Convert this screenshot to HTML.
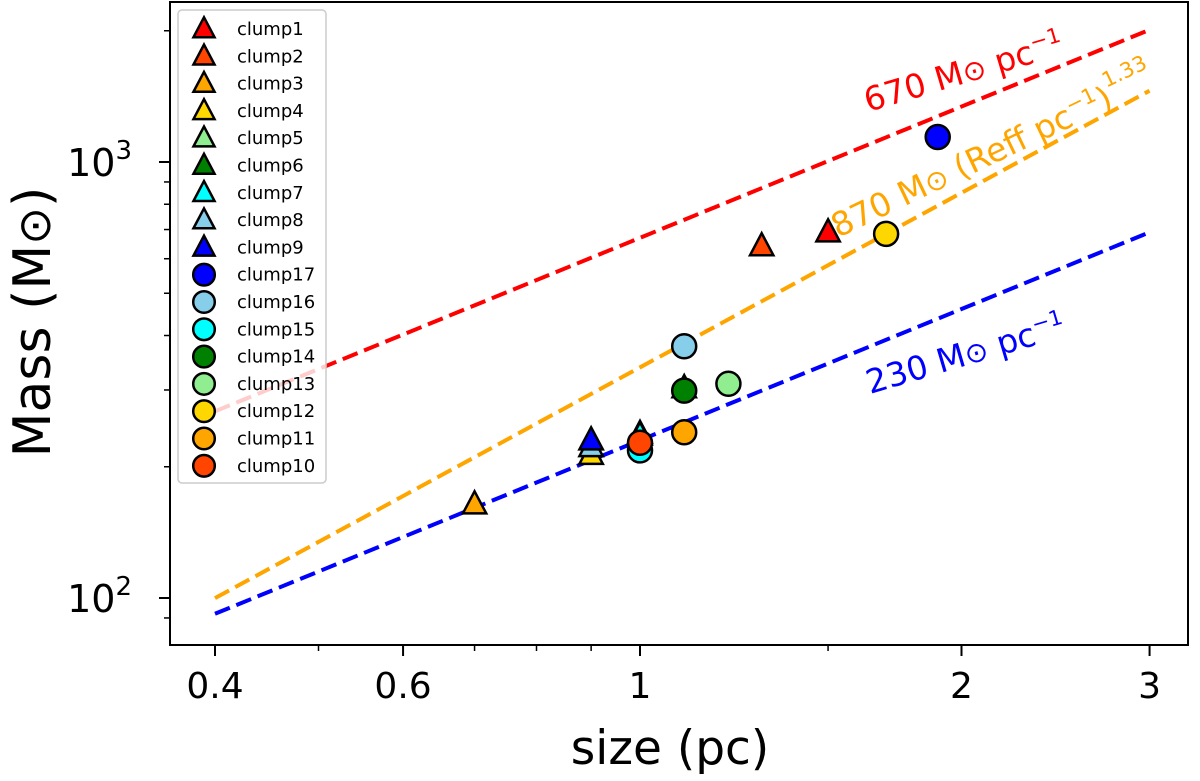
<!DOCTYPE html>
<html><head><meta charset="utf-8"><style>
body{margin:0;background:#fff;}
svg{font-family:"DejaVu Sans","Liberation Sans",sans-serif;}
</style></head><body>
<svg id="chart" width="1200" height="776">
<rect x="170" y="2" width="1018" height="643" fill="none" stroke="#000" stroke-width="2"/>
<g id="lines"></g><g id="ticks"></g><g id="points"></g>
<g>
<text x="868" y="112" fill="red" font-size="33" transform="rotate(-16.5 868 112)">670 M<tspan font-size="28">⊙</tspan> pc<tspan dy="-13" font-size="21">−1</tspan></text>
<text x="838" y="238" fill="orange" font-size="33" transform="rotate(-25.5 838 238)">870 M<tspan font-size="28">⊙</tspan> (Reff pc<tspan dy="-13" font-size="21">−1</tspan><tspan dy="13">)</tspan><tspan dy="-20" font-size="21">1.33</tspan></text>
<text x="870" y="394" fill="blue" font-size="33" transform="rotate(-16.5 870 394)">230 M<tspan font-size="28">⊙</tspan> pc<tspan dy="-13" font-size="21">−1</tspan></text>
</g>
<text x="670" y="764" font-size="47" text-anchor="middle">size (pc)</text>
<text x="50" y="322" font-size="52" text-anchor="middle" transform="rotate(-90 50 322)">Mass (M<tspan font-size="45">⊙</tspan>)</text>
<g id="legend"></g>
</svg>
<script>
const names=["clump1","clump2","clump3","clump4","clump5","clump6","clump7","clump8","clump9","clump17","clump16","clump15","clump14","clump13","clump12","clump11","clump10"];
const colors=["red","#ff4500","orange","gold","lightgreen","green","cyan","skyblue","blue","blue","skyblue","cyan","green","lightgreen","gold","orange","#ff4500"];
const shapes=["t","t","t","t","t","t","t","t","t","c","c","c","c","c","c","c","c"];
const sizes=[1.5,1.30,0.70,0.90,1.0,1.10,1.0,0.90,0.90,1.90,1.10,1.0,1.10,1.21,1.70,1.10,1.0];
const masses=[690,641,164,213,238,303,236,222,230,1141,378,218,299,310,684,240,227];
const xTicks=[0.4,0.6,1,2,3];const xTickLabels=["0.4","0.6","1","2","3"];
const yTicks=[100,1000];
const lineCoef=[670,338,230];const lineExp=[1,1.33,1];const lineColors=["red","orange","blue"];
const X=v=>640+1068*Math.log10(v);const Y=v=>598-436*Math.log10(v/100);
const NS="http://www.w3.org/2000/svg";
function mk(t,a,p){const e=document.createElementNS(NS,t);for(const k in a)e.setAttribute(k,a[k]);p.appendChild(e);return e;}
const L=document.getElementById('lines');
lineCoef.forEach((c,i)=>{const e=mk('line',{x1:X(0.4),y1:Y(c*Math.pow(0.4,lineExp[i])),x2:X(3),y2:Y(c*Math.pow(3,lineExp[i])),stroke:lineColors[i],'stroke-width':4,'stroke-dasharray':'16 7'},L);

});
const T=document.getElementById('ticks');
xTicks.forEach((v,i)=>{const l=mk('line',{x1:X(v),x2:X(v),y1:645,y2:656,stroke:'#000','stroke-width':2},T);


const t=mk('text',{x:X(v),y:698,'font-size':36,'text-anchor':'middle'},T);t.textContent=xTickLabels[i];

});
[0.5,0.7,0.8,0.9,1.5].forEach(v=>{const l=mk('line',{x1:X(v),x2:X(v),y1:645,y2:651,stroke:'#000','stroke-width':1.5},T);

});
yTicks.forEach(v=>{const l=mk('line',{x1:159,x2:170,y1:Y(v),y2:Y(v),stroke:'#000','stroke-width':2},T);


const t=mk('text',{x:132,y:Y(v)+14,'font-size':38,'text-anchor':'end'},T);t.innerHTML='10<tspan dy="-17" font-size="26">'+Math.log10(v)+'</tspan>';

});
[90,200,300,400,500,600,700,800,900,2000].forEach(v=>{const l=mk('line',{x1:164,x2:170,y1:Y(v),y2:Y(v),stroke:'#000','stroke-width':1.5},T);

});
function marker(s,cx,cy,col,p,sc){sc=sc||1;if(s==='c')return mk('circle',{cx:cx,cy:cy,r:12*sc,fill:col,stroke:'#000','stroke-width':2.5},p);
const h=13*sc;return mk('polygon',{points:`${cx},${cy-h} ${cx+h*0.9},${cy+h*0.7} ${cx-h*0.9},${cy+h*0.7}`,fill:col,stroke:'#000','stroke-width':2.5,'stroke-linejoin':'miter'},p);}
const P=document.getElementById('points');
names.forEach((n,i)=>{const e=marker(shapes[i],X(sizes[i]),Y(masses[i]),colors[i],P);

});
const G=document.getElementById('legend');
const lb=mk('rect',{x:178,y:10,width:148,height:473,rx:4,fill:'#fff','fill-opacity':0.8,stroke:'#ccc','stroke-width':1.5},G);


names.forEach((n,i)=>{const y=29+i*27.3;const e=marker(shapes[i],204,y,colors[i],G,0.9);


const t=mk('text',{x:237,y:y+6,'font-size':18},G);t.textContent=n;

});
</script>
</body></html>
